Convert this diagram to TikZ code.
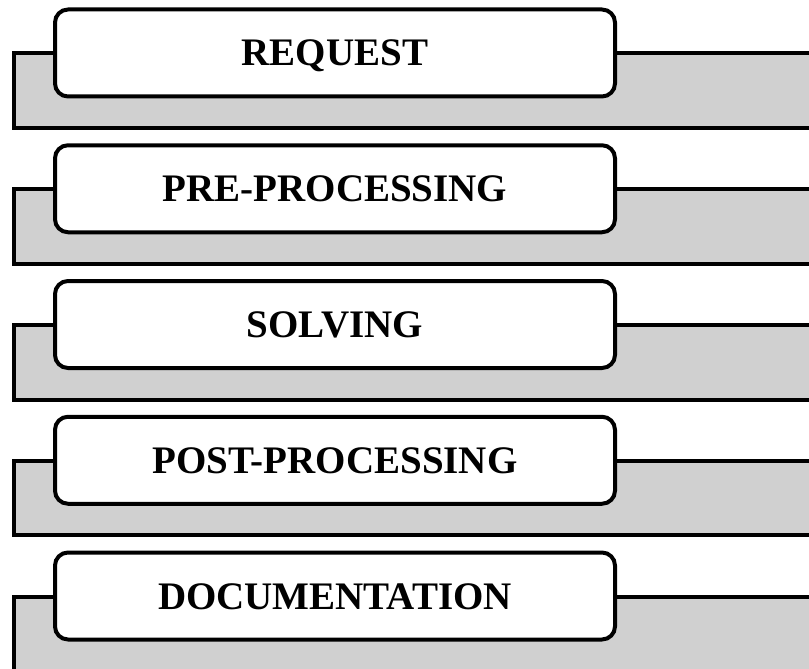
\documentclass[tikz,border=0pt]{standalone}
\usepackage{fontspec}
\setmainfont{Liberation Serif}
\definecolor{backgray}{RGB}{208,208,208}
\begin{document}
\begin{tikzpicture}[x=1pt,y=-1pt,
  back/.style={draw=black, line width=4pt, fill=backgray},
  stage/.style={draw=black, line width=4pt, fill=white, rounded corners=13pt,
    minimum width=560pt, minimum height=87pt, inner sep=0pt,
    font=\fontsize{39}{39}\selectfont\bfseries, text height=26pt, text depth=0pt}]
\useasboundingbox (0,0) rectangle (809,669);
\clip (0,0) rectangle (809,669);
\foreach \i/\t/\n in {0/REQUEST/req,1/PRE-PROCESSING/pre,2/SOLVING/sol,3/POST-PROCESSING/post,4/DOCUMENTATION/doc}{
  \pgfmathsetmacro\tp{9.5+135.75*\i}
  \draw[back] (14,\tp+44) rectangle (840,\tp+118.5);
  \node[stage] (\n) at (335,\tp+43.5) {\t};
}
\end{tikzpicture}
\end{document}
